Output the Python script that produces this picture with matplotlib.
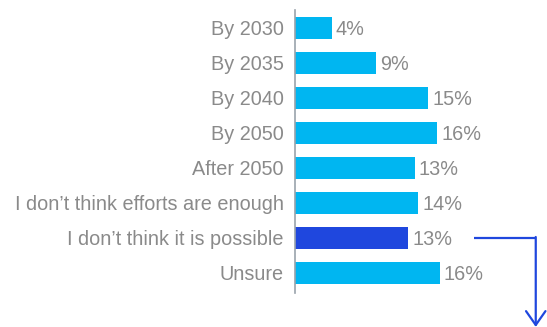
import matplotlib.pyplot as plt

plt.rcParams['font.family'] = ['Liberation Sans', 'DejaVu Sans']

categories = ["By 2030", "By 2035", "By 2040", "By 2050", "After 2050",
              "I don\u2019t think efforts are enough", "I don\u2019t think it is possible",
              "Unsure"]
values = [4.1, 9.0, 14.8, 15.8, 13.3, 13.7, 12.6, 16.1]
value_labels = ["4%", "9%", "15%", "16%", "13%", "14%", "13%", "16%"]
highlight = 6

light_blue = '#00b6f1'
dark_blue = '#1f47de'
gray = '#8a8a8a'

fig = plt.figure(figsize=(5.47, 3.27), dpi=100)
ax = fig.add_axes([295 / 547, 34 / 327, 252 / 547, 283 / 327])

colors = [dark_blue if i == highlight else light_blue for i in range(len(values))]
y = list(range(len(values)))
ax.barh(y, values, height=0.63, color=colors)

for i, (v, lab) in enumerate(zip(values, value_labels)):
    ax.text(v + 0.45, i, lab, va='center_baseline', ha='left', fontsize=14.3, color=gray)

ax.set_xlim(0, 28)
ax.set_ylim(7.58, -0.506)
ax.set_yticks(y)
ax.set_yticklabels(categories, fontsize=14.3, color=gray)
ax.tick_params(axis='y', length=0, pad=8)
ax.set_xticks([])
for side in ['top', 'right', 'bottom']:
    ax.spines[side].set_visible(False)
ax.spines['left'].set_color('#9aa3ab')
ax.spines['left'].set_linewidth(1.2)

# arrow pointing out of the highlighted bar
x1, x2 = 19.9, 26.75
ax.plot([x1, x2], [highlight, highlight], color=dark_blue, lw=1.6,
        clip_on=False, solid_capstyle='butt')
ax.annotate('', xy=(x2, 8.55), xytext=(x2, highlight - 0.02),
            arrowprops=dict(arrowstyle='->,head_width=0.7,head_length=1.0',
                            color=dark_blue, lw=1.6, shrinkA=0, shrinkB=0),
            annotation_clip=False)

fig.savefig('out.png', dpi=100)
